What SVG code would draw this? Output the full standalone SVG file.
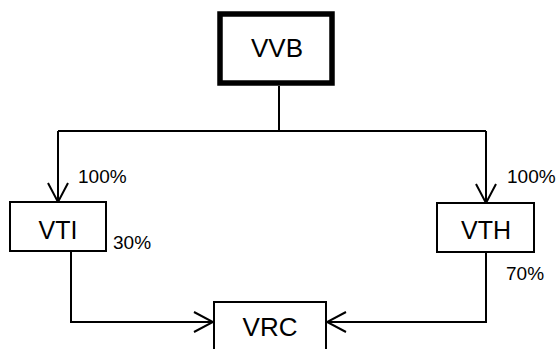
<svg xmlns="http://www.w3.org/2000/svg" width="560" height="349" viewBox="0 0 560 349">
  <style>
    .box { fill: #fff; stroke: #000; stroke-width: 2; }
    .main { stroke-width: 5.5; }
    .lbl { font-family: "Liberation Sans", Arial, sans-serif; fill: #000; text-anchor: middle; }
    .pct { font-family: "Liberation Sans", Arial, sans-serif; fill: #000; font-size: 19px; }
    .wire { fill: none; stroke: #000; stroke-width: 2; }
  </style>
  <defs>
    <marker id="open" viewBox="0 0 22 22" refX="20" refY="11" markerWidth="22" markerHeight="22" markerUnits="userSpaceOnUse" orient="auto">
      <path d="M1,1 L20,11 L1,21" fill="none" stroke="#000" stroke-width="2"/>
    </marker>
  </defs>
  <rect width="560" height="349" fill="#fff"/>

  <g id="connectors">
    <path class="wire" d="M279,86 V131"/>
    <path class="wire" d="M58,131 H486"/>
    <path class="wire" d="M58,131 V202" marker-end="url(#open)"/>
    <path class="wire" d="M486,131 V203" marker-end="url(#open)"/>
    <path class="wire" d="M71,251 V322 H213" marker-end="url(#open)"/>
    <path class="wire" d="M486,252 V322 H327" marker-end="url(#open)"/>
  </g>

  <g id="VVB">
    <rect class="box main" x="220" y="14" width="112" height="69"/>
    <text class="lbl" x="277" y="57" font-size="26">VVB</text>
  </g>
  <g id="VTI">
    <rect class="box" x="10" y="202" width="96" height="49"/>
    <text class="lbl" x="58" y="239" font-size="25">VTI</text>
    <text class="pct" x="78" y="183">100%</text>
    <text class="pct" x="113" y="249">30%</text>
  </g>
  <g id="VTH">
    <rect class="box" x="437" y="203" width="97" height="49"/>
    <text class="lbl" x="486" y="239" font-size="25">VTH</text>
    <text class="pct" x="507" y="183">100%</text>
    <text class="pct" x="506" y="280">70%</text>
  </g>
  <g id="VRC">
    <rect class="box" x="214" y="302" width="112" height="60"/>
    <text class="lbl" x="270" y="336" font-size="26">VRC</text>
  </g>
</svg>
